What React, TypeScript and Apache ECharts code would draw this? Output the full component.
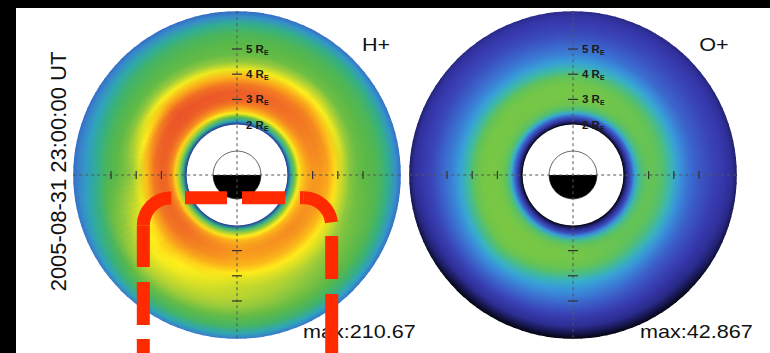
import React, { useEffect, useRef } from "react";
import * as echarts from "echarts";

// radial sample positions (Earth radii) and the look directions (deg, 0 = right, counter-clockwise)
const RADII = [2.0, 2.15, 2.3, 2.45, 2.6, 2.8, 3.0, 3.3, 3.6, 3.9, 4.2, 4.5, 4.8, 5.2, 5.6, 6.0, 6.3, 6.5];
const DIRECTIONS = [0, 45, 90, 135, 180, 225, 270, 315];

// H+ intensity, % of max, one radial profile per direction
const H_E = [5, 35, 55, 72, 82, 86, 88, 88, 86, 78, 64, 56, 52, 50, 47, 38, 25, 17];
const H_NE = [5, 35, 55, 74, 84, 90, 93, 94, 92, 86, 76, 64, 54, 50, 47, 40, 28, 18];
const H_N = [4, 30, 50, 72, 84, 92, 97, 98, 93, 84, 70, 58, 52, 50, 47, 38, 24, 16];
const H_NW = [5, 40, 62, 80, 90, 96, 99, 100, 96, 86, 74, 60, 52, 48, 44, 34, 24, 17];
const H_W = [5, 40, 62, 80, 90, 96, 97, 93, 82, 66, 58, 54, 50, 46, 36, 27, 21, 17];
const H_SW = [5, 40, 62, 80, 90, 94, 95, 93, 88, 82, 78, 74, 68, 62, 52, 44, 32, 20];
const H_S = [5, 40, 60, 76, 84, 87, 88, 87, 84, 76, 68, 65, 64, 60, 52, 45, 32, 20];
const H_SE = [5, 38, 58, 75, 84, 88, 90, 88, 84, 76, 68, 62, 58, 54, 50, 42, 30, 18];

// O+ intensity, % of max
const O_E = [2, 25, 50, 70, 82, 88, 91, 90, 86, 78, 68, 60, 54, 48, 42, 36, 28, 16];
const O_NE = [2, 25, 50, 70, 84, 90, 93, 93, 90, 83, 73, 64, 56, 50, 44, 38, 30, 20];
const O_N = [2, 25, 50, 72, 86, 93, 96, 97, 95, 90, 80, 70, 62, 54, 46, 40, 33, 24];
const O_NW = [2, 26, 52, 74, 87, 93, 96, 97, 95, 90, 80, 70, 62, 54, 46, 40, 32, 22];
const O_W = [2, 28, 55, 76, 88, 94, 97, 98, 96, 90, 80, 70, 62, 54, 44, 36, 28, 14];
const O_SW = [2, 25, 50, 72, 86, 93, 97, 99, 98, 94, 86, 76, 66, 55, 42, 26, 10, 2];
const O_S = [2, 22, 45, 68, 84, 92, 95, 96, 93, 86, 76, 68, 62, 52, 40, 26, 10, 2];
const O_SE = [2, 22, 45, 65, 80, 88, 91, 90, 86, 78, 68, 60, 52, 44, 34, 22, 10, 3];

const H_PROFILES = [H_E, H_NE, H_N, H_NW, H_W, H_SW, H_S, H_SE];
const O_PROFILES = [O_E, O_NE, O_N, O_NW, O_W, O_SW, O_S, O_SE];

const H_MAX = "210.67";
const O_MAX = "42.867";
const TIMESTAMP = "2005-08-31 23:00:00 UT";
const RING_LABELS = [5, 4, 3, 2];
const TICK_RADII = [3, 4, 5];
const R_MAX = 6.5;
const R_INNER = 2.0;
const EARTH_R = 0.95;

const H_COLORS = ["#1a1f80", "#24379c", "#2d4fb8", "#3466c4", "#3a7ccc", "#3590c8", "#2fa3c0", "#2faba0", "#35b080", "#45b463", "#5ab847", "#78c141", "#9ccb3b", "#c4d82c", "#e8e620", "#fff01c", "#fdd219", "#fbb01a", "#f58a20", "#f06c25", "#eb5228"];
const O_COLORS = ["#000000", "#0a0a26", "#141448", "#1e1e68", "#26267e", "#2c2c90", "#31319e", "#3535a8", "#383cb0", "#3a48b8", "#3b56c2", "#3b66cc", "#3a78d4", "#3a8cd9", "#389fd8", "#37b0cc", "#3db8a8", "#4cbd7e", "#60c25a", "#72c648", "#7cc842"];

const FONT = '"Liberation Sans", Arial, Helvetica, sans-serif';
const RED = "#ff2a00";
const SHADE_STEPS = 15;

function mapRender(profiles: number[][], colors: string[]) {
  return (params: any, api: any) => {
    const i = params.dataIndex;
    const n = DIRECTIONS.length;
    const a0 = api.value(1);
    const a1 = a0 + 360 / n;
    const next = profiles[(i + 1) % n];
    const prof = profiles[i];
    const c = api.coord([0, a0]);
    const children: any[] = [];
    for (let j = 0; j < SHADE_STEPS; j++) {
      const f = (j + 0.5) / SHADE_STEPS;
      const am = a0 + (a1 - a0) * f;
      const pOut = api.coord([R_MAX, am]);
      const pIn = api.coord([R_INNER, am]);
      const rOut = Math.hypot(pOut[0] - c[0], pOut[1] - c[1]);
      const rIn = Math.hypot(pIn[0] - c[0], pIn[1] - c[1]);
      const mid = Math.atan2(pOut[1] - c[1], pOut[0] - c[0]);
      const half = (Math.PI * (a1 - a0)) / 360 / SHADE_STEPS + 0.006;
      const stops = RADII.map((r, k) => ({
        offset: Math.min(1, r / R_MAX),
        color: echarts.color.lerp((prof[k] * (1 - f) + next[k] * f) / 100, colors) as string,
      }));
      children.push({
        type: "sector",
        shape: { cx: c[0], cy: c[1], r0: rIn - 0.5, r: rOut, startAngle: mid - half, endAngle: mid + half, clockwise: true },
        style: { fill: new (echarts.graphic as any).RadialGradient(c[0], c[1], rOut, stops, true) },
      });
    }
    return { type: "group", children };
  };
}

function decorRender(params: any, api: any) {
  const c = api.coord([0, 0]);
  const cx = c[0];
  const cy = c[1];
  const px = (r: number) => {
    const p = api.coord([r, 0]);
    return Math.hypot(p[0] - cx, p[1] - cy);
  };
  const unit = px(1);
  const rOut = px(R_MAX);
  const rIn = px(R_INNER);
  const rE = px(EARTH_R);
  const ch: any[] = [];
  ch.push({ type: "circle", shape: { cx, cy, r: rIn }, style: { fill: "#fff" } });
  ch.push({ type: "circle", shape: { cx, cy, r: rE }, style: { fill: "#fff", stroke: "#666", lineWidth: 1 } });
  ch.push({ type: "sector", shape: { cx, cy, r0: 0, r: rE, startAngle: 0, endAngle: Math.PI, clockwise: true }, style: { fill: "#000" } });
  ch.push({ type: "line", shape: { x1: cx - rOut, y1: cy, x2: cx + rOut, y2: cy }, style: { stroke: "#555", lineWidth: 1, lineDash: [3, 3] } });
  ch.push({ type: "line", shape: { x1: cx, y1: cy - rOut, x2: cx, y2: cy + rOut }, style: { stroke: "#555", lineWidth: 1, lineDash: [3, 3] } });
  TICK_RADII.forEach((r) => {
    const d = r * unit;
    const st = { stroke: "#333", lineWidth: 1.2 };
    ch.push({ type: "line", shape: { x1: cx - 5, y1: cy - d, x2: cx + 5, y2: cy - d }, style: st });
    ch.push({ type: "line", shape: { x1: cx - 5, y1: cy + d, x2: cx + 5, y2: cy + d }, style: st });
    ch.push({ type: "line", shape: { x1: cx - d, y1: cy - 4, x2: cx - d, y2: cy + 4 }, style: st });
    ch.push({ type: "line", shape: { x1: cx + d, y1: cy - 4, x2: cx + d, y2: cy + 4 }, style: st });
  });
  RING_LABELS.forEach((r) => {
    ch.push({
      type: "text",
      x: cx + 9,
      y: cy - r * unit,
      style: {
        text: `{a|${r} R}{b|E}`,
        verticalAlign: "middle",
        rich: {
          a: { fontSize: 11.5, fontWeight: "bold", fontFamily: FONT, fill: "#1a1a1a" },
          b: { fontSize: 7, fontWeight: "bold", fontFamily: FONT, fill: "#1a1a1a", padding: [7, 0, 0, 0] },
        },
      },
    });
  });
  return { type: "group", children: ch };
}

function polarAxes(idx: number) {
  return {
    radius: { polarIndex: idx, type: "value", min: 0, max: R_MAX, show: false },
    angle: { polarIndex: idx, type: "value", min: 0, max: 360, startAngle: 0, clockwise: false, show: false },
  };
}

function redLine(x1: number, y1: number, x2: number, y2: number) {
  return { type: "line", z: 100, shape: { x1, y1, x2, y2 }, style: { stroke: RED, lineWidth: 13, lineCap: "butt" } };
}
function redArc(cx: number, cy: number, r: number, s: number, e: number) {
  return { type: "arc", z: 100, shape: { cx, cy, r, startAngle: s, endAngle: e, clockwise: true }, style: { stroke: RED, lineWidth: 13, fill: "none", lineCap: "butt" } };
}

export default function App() {
  const ref = useRef<HTMLDivElement>(null);
  useEffect(() => {
    if (!ref.current) return;
    const chart = echarts.init(ref.current, null, { renderer: "svg", width: 770, height: 353 });
    const a0 = polarAxes(0);
    const a1 = polarAxes(1);
    // annotation: red dashed rounded frame
    const L = 143.3, T = 197.7, Rt = 331.7, CR = 28;
    chart.setOption({
      animation: false,
      backgroundColor: "#000",
      polar: [
        { center: [237, 175], radius: 163.8 },
        { center: [573, 175], radius: 163.8 },
      ],
      radiusAxis: [a0.radius, a1.radius],
      angleAxis: [a0.angle, a1.angle],
      series: [
        { type: "custom", coordinateSystem: "polar", polarIndex: 0, silent: true, z: 2, renderItem: mapRender(H_PROFILES, H_COLORS), data: DIRECTIONS.map((d) => [R_MAX, d]) },
        { type: "custom", coordinateSystem: "polar", polarIndex: 0, silent: true, z: 3, renderItem: decorRender, data: [[0, 0]] },
        { type: "custom", coordinateSystem: "polar", polarIndex: 1, silent: true, z: 2, renderItem: mapRender(O_PROFILES, O_COLORS), data: DIRECTIONS.map((d) => [R_MAX, d]) },
        { type: "custom", coordinateSystem: "polar", polarIndex: 1, silent: true, z: 3, renderItem: decorRender, data: [[0, 0]] },
      ],
      graphic: [
        { type: "rect", z: -10, shape: { x: 16, y: 8, width: 760, height: 350 }, style: { fill: "#fff" } },
        { type: "text", z: 50, x: 376, y: 45, scaleX: 1.2, style: { text: "H+", font: `18px ${FONT}`, fill: "#111", align: "center", verticalAlign: "middle" } },
        { type: "text", z: 50, x: 714, y: 45, scaleX: 1.2, style: { text: "O+", font: `18px ${FONT}`, fill: "#111", align: "center", verticalAlign: "middle" } },
        { type: "text", z: 50, x: 303, y: 332, scaleX: 1.2, style: { text: `max:${H_MAX}`, font: `18px ${FONT}`, fill: "#111", align: "left", verticalAlign: "middle" } },
        { type: "text", z: 50, x: 640, y: 332, scaleX: 1.2, style: { text: `max:${O_MAX}`, font: `18px ${FONT}`, fill: "#111", align: "left", verticalAlign: "middle" } },
        { type: "text", z: 50, x: 58, y: 171.5, rotation: Math.PI / 2, style: { text: TIMESTAMP, font: `22px ${FONT}`, fill: "#111", align: "center", verticalAlign: "middle" } },
        redLine(185, T, 227, T),
        redLine(242, T, 285, T),
        redLine(300, T, Rt - CR, T),
        redArc(Rt - CR, T + CR, CR, -Math.PI / 2, -0.12),
        redLine(Rt, 236, Rt, 279),
        redLine(Rt, 294, Rt, 360),
        redLine(L, 267, L, T + CR),
        redArc(L + CR, T + CR, CR, Math.PI, Math.PI * 1.5),
        redLine(L, 282, L, 325),
        redLine(L, 339, L, 360),
      ],
    });
    return () => chart.dispose();
  }, []);
  return <div ref={ref} style={{ position: "fixed", left: 0, top: 0, width: 770, height: 353 }} />;
}
